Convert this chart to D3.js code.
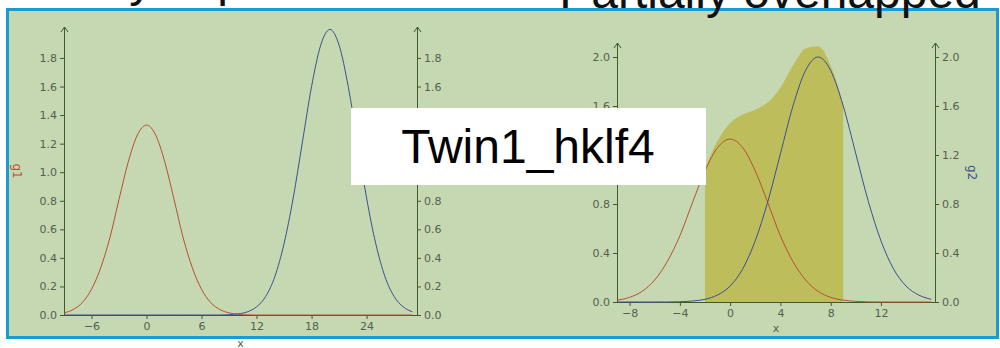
<!DOCTYPE html>
<html>
<head>
<meta charset="utf-8">
<script src="https://d3js.org/d3.v7.min.js"></script>
<style>
  body { margin: 0; background: #fff; }
  svg { display: block; }
  .tick text { font-family: "DejaVu Sans", sans-serif; font-size: 11px; fill: #55604d; }
</style>
</head>
<body>
<div id="chart"></div>
<script>
// dados
var esqX  = d3.range(-9, 30);
var esqG1 = [0.015,0.038,0.087,0.18,0.33,0.54,0.81,1.07,1.26,1.33,1.26,1.07,0.81,0.54,0.33,0.18,0.087,0.038,0.015,0.005,0.001,
             0,0,0,0,0,0,0,0,0,0,0,0,0,0,0,0,0,0];
var esqG2 = [0,0,0,0,0,0,0,0,0,0,0,0,0,0,0,0,0,0,
             0.002,0.008,0.022,0.057,0.13,0.27,0.50,0.82,1.21,1.60,1.89,2.0,1.89,1.60,1.21,0.82,0.50,0.27,0.13,0.057,0.022];
var dirX  = d3.range(-9, 17);
var dirG1 = [0.015,0.038,0.087,0.18,0.33,0.54,0.81,1.07,1.26,1.33,1.26,1.07,0.81,0.54,0.33,0.18,0.087,0.038,0.015,0.005,0.001,
             0,0,0,0,0];
var dirG2 = [0,0,0,0,0,
             0.002,0.008,0.022,0.057,0.13,0.27,0.50,0.82,1.21,1.60,1.89,2.0,1.89,1.60,1.21,0.82,0.50,0.27,0.13,0.057,0.022];
var esqTicksX = [-6, 0, 6, 12, 18, 24];
var esqTicksY = [0, 0.2, 0.4, 0.6, 0.8, 1.0, 1.2, 1.4, 1.6, 1.8];
var dirTicksX = [-8, -4, 0, 4, 8, 12];
var dirTicksY = [0, 0.4, 0.8, 1.2, 1.6, 2.0];
var faixaSoma = [-2, 9];
var titulos = ["Fully separated", "Partially overlapped"];
var rotulo = "Twin1_hklf4";

var svg = d3.select("#chart").append("svg").attr("width", 1000).attr("height", 348);

// fundo verde com borda azul
svg.append("rect").attr("x", 7.5).attr("y", 9.5).attr("width", 990).attr("height", 328)
   .attr("fill", "#c5d8b2").attr("stroke", "#1a9cd2").attr("stroke-width", 3);

var corEixo = "#3e5a2c", corG1 = "#b4512f", corG2 = "#3c4f8c";

function painel(cfg) {
  var x = d3.scaleLinear().domain(cfg.dx).range([cfg.x0, cfg.x1]);
  var y = d3.scaleLinear().domain([0, 1]).range([cfg.y0, cfg.y0 - cfg.unit]);
  var g = svg.append("g");
  var pts = cfg.xs.map((v, i) => ({x: v, g1: cfg.g1[i], g2: cfg.g2[i]}));
  var meioY = (cfg.y0 + cfg.yTop) / 2;

  if (cfg.soma) {
    var sub = pts.filter(d => d.x >= cfg.soma[0] && d.x <= cfg.soma[1]);
    g.append("path").datum(sub)
      .attr("fill", "#bebd5b")
      .attr("d", d3.area().x(d => x(d.x)).y0(y(0)).y1(d => y(d.g1 + d.g2)).curve(d3.curveMonotoneX));
  }

  // eixo x
  var ax = g.append("g").attr("transform", "translate(0," + cfg.y0 + ")")
    .call(d3.axisBottom(x).tickValues(cfg.tx).tickSize(4).tickPadding(3).tickFormat(d3.format("d")));
  ax.select(".domain").remove();
  ax.selectAll("line").attr("stroke", corEixo);
  g.append("line").attr("x1", cfg.x0).attr("x2", cfg.x1).attr("y1", cfg.y0 + 0.5).attr("y2", cfg.y0 + 0.5)
    .attr("stroke", corEixo);

  // eixos y
  var yl = g.append("g").attr("transform", "translate(" + cfg.x0 + ",0)")
    .call(d3.axisLeft(y).tickValues(cfg.ty).tickSize(4).tickPadding(3).tickFormat(d3.format(".1f")));
  var yr = g.append("g").attr("transform", "translate(" + cfg.x1 + ",0)")
    .call(d3.axisRight(y).tickValues(cfg.ty).tickSize(4).tickPadding(3).tickFormat(d3.format(".1f")));
  [yl, yr].forEach(a => { a.select(".domain").remove(); a.selectAll("line").attr("stroke", corEixo); });
  [cfg.x0, cfg.x1].forEach(function (xx) {
    g.append("line").attr("x1", xx + 0.5).attr("x2", xx + 0.5).attr("y1", cfg.y0).attr("y2", cfg.yTop)
      .attr("stroke", corEixo);
    g.append("path").attr("d", "M" + (xx - 3) + "," + (cfg.yTop + 5) + "L" + (xx + 0.5) + "," + cfg.yTop + "L" + (xx + 4) + "," + (cfg.yTop + 5))
      .attr("fill", "none").attr("stroke", corEixo);
  });

  // curvas
  [["g1", corG1], ["g2", corG2]].forEach(function (s) {
    g.append("path").datum(pts)
      .attr("fill", "none").attr("stroke", s[1]).attr("stroke-width", 1)
      .attr("d", d3.line().x(d => x(d.x)).y(d => y(d[s[0]])).curve(d3.curveMonotoneX));
  });

  // rótulos
  g.append("text").attr("x", (cfg.x0 + cfg.x1) / 2).attr("y", cfg.xLab)
    .attr("text-anchor", "middle").attr("font-family", "DejaVu Sans").attr("font-size", 11)
    .attr("fill", "#55604d").text("x");
  g.append("text").attr("transform", "translate(" + (cfg.x0 - 51) + "," + meioY + ") rotate(90)")
    .attr("text-anchor", "middle").attr("font-family", "DejaVu Sans").attr("font-size", 12)
    .attr("fill", corG1).text("g1");
  g.append("text").attr("transform", "translate(" + (cfg.x1 + 33) + "," + meioY + ") rotate(90)")
    .attr("text-anchor", "middle").attr("font-family", "DejaVu Sans").attr("font-size", 12)
    .attr("fill", corG2).text("g2");

  g.append("text").attr("x", cfg.tCx).attr("y", cfg.tY)
    .attr("text-anchor", "middle").attr("font-family", "Liberation Sans, Arial, sans-serif").attr("font-size", 48)
    .attr("fill", "#111").text(cfg.titulo);
}

painel({xs: esqX, g1: esqG1, g2: esqG2, dx: [-9, 29.5], x0: 64, x1: 417, y0: 315, unit: 142.8, yTop: 27,
        tx: esqTicksX, ty: esqTicksY, xLab: 347, titulo: titulos[0], tCx: 216, tY: -4});
painel({xs: dirX, g1: dirG1, g2: dirG2, dx: [-9, 16.3], x0: 617, x1: 935, y0: 302, unit: 122.5, yTop: 43,
        tx: dirTicksX, ty: dirTicksY, xLab: 332, soma: faixaSoma, titulo: titulos[1], tCx: 770, tY: 8});

// caixa branca com o nome
svg.append("rect").attr("x", 351).attr("y", 108).attr("width", 355).attr("height", 77).attr("fill", "#fff");
svg.append("text").attr("x", 528).attr("y", 163).attr("text-anchor", "middle")
   .attr("font-family", "Liberation Sans, Arial, sans-serif").attr("font-size", 48).attr("fill", "#000").text(rotulo);
</script>
</body>
</html>
